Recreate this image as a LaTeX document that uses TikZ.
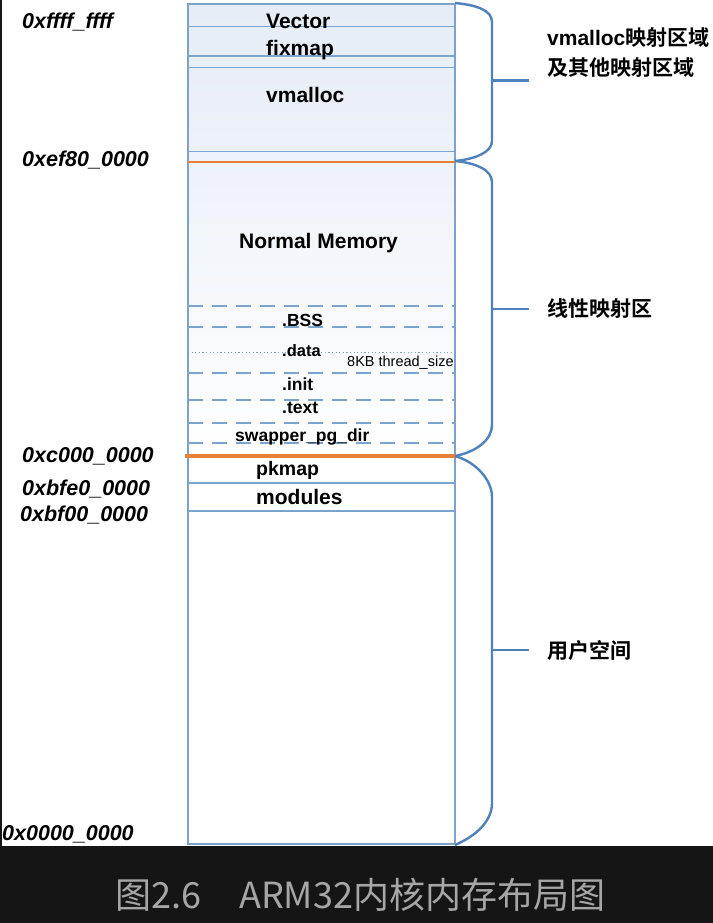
\documentclass[tikz,border=0pt]{standalone}
\usepackage{fontspec}
\setmainfont{Liberation Sans}
\newfontfamily\cjk{Noto Sans CJK SC}[BoldFont={Noto Sans CJK SC Bold}]
\definecolor{boxline}{HTML}{7BA3CB}
\definecolor{bracecol}{HTML}{4F81BD}
\definecolor{orangeline}{HTML}{E8803A}
\definecolor{kfill}{HTML}{E6EDF6}
\definecolor{kfilltwo}{HTML}{EEF2F9}
\definecolor{darkband}{HTML}{151515}
\definecolor{capgrey}{HTML}{A6A6A6}

\begin{document}
\begin{tikzpicture}[x=1bp,y=-1bp]
    \tikzstyle{every node}=[inner sep=0pt];
    \tikzstyle{addr}=[anchor=base west,font=\fontsize{21.5bp}{24bp}\selectfont\bfseries\itshape];
    \tikzstyle{seg}=[anchor=base west,font=\fontsize{21bp}{24bp}\selectfont\bfseries];
    \tikzstyle{sec}=[anchor=base west,font=\fontsize{17.5bp}{20bp}\selectfont\bfseries];
    \tikzstyle{area}=[anchor=base west,align=left,font=\fontsize{21bp}{30bp}\selectfont\bfseries];
    \tikzstyle{brace}=[draw=bracecol,line width=2.4bp];
    \useasboundingbox (0,0) rectangle (713,923);
    \fill[white] (0,0) rectangle (713,846);
    \fill[darkband] (0,846) rectangle (713,923);
    \fill[darkband] (0,0) rectangle (2,846);

    % kernel part shaded, user part white
    \shade[top color=kfill,bottom color=kfilltwo] (188,4) rectangle (455,161.5);
    \shade[top color=kfilltwo,bottom color=white] (188,161.5) rectangle (455,456);

    %\draw [option] ...
    \draw[boxline,line width=1.6bp] (188,4) rectangle (455,844);
    \draw[boxline,line width=1.6bp] (188,26.5)--(455,26.5)
    (188,56)--(455,56)
    (188,67.5)--(455,67.5)
    (188,151.5)--(455,151.5)
    (188,483)--(455,483)
    (188,511)--(455,511);
    \draw[boxline,line width=1.5bp,dash pattern=on 15bp off 9bp]
    (188,306)--(455,306)
    (188,327)--(455,327)
    (188,373)--(455,373)
    (188,400)--(455,400)
    (188,423)--(455,423)
    (188,443)--(455,443);
    \draw[boxline!80!gray,line width=1bp,dash pattern=on 1.2bp off 2.4bp] (188,352)--(455,352);
    \draw[orangeline,line width=2bp] (188,161.5)--(455,161.5);
    \draw[orangeline,line width=4.2bp] (185,456)--(456,456);

    % addresses
    \node[addr] (ffff) at (22,28) {0xffff\_ffff};
    \node[addr] (ef80) at (22,166) {0xef80\_0000};
    \node[addr] (c000) at (22,462) {0xc000\_0000};
    \node[addr] (bfe0) at (22,495) {0xbfe0\_0000};
    \node[addr] (bf00) at (20,521) {0xbf00\_0000};
    \node[addr] (zero) at (2,840) {0x0000\_0000};

    % segments
    \node[seg] (vector) at (266,28) {Vector};
    \node[seg] (fixmap) at (266,55) {fixmap};
    \node[seg] (vmalloc) at (266,102) {vmalloc};
    \node[seg] (normal) at (239,248.5) {Normal Memory};
    \node[sec] (bss) at (282,326) {.BSS};
    \node[sec,font=\fontsize{16.5bp}{20bp}\selectfont\bfseries] (data) at (282,356) {.data};
    \node[anchor=base west,font=\fontsize{14.5bp}{17bp}\selectfont] (thread) at (347,366) {8KB thread\_size};
    \node[sec] (init) at (282,390) {.init};
    \node[sec] (text) at (282,413) {.text};
    \node[sec] (swapper) at (235,441) {swapper\_pg\_dir};
    \node[seg,font=\fontsize{19.5bp}{24bp}\selectfont\bfseries] (pkmap) at (256,475) {pkmap};
    \node[seg] (modules) at (256,504) {modules};

    % braces
    \draw[brace] (455,3) .. controls (476,5) and (492,10) .. (492,22) -- (492,141) .. controls (492,152) and (476,159) .. (455,161);
    \draw[brace] (455,161) .. controls (476,163) and (492,170) .. (492,182) -- (492,425) .. controls (492,440) and (476,452) .. (455,456);
    \draw[brace] (455,456) .. controls (476,462) and (492,480) .. (492,497) -- (492,803) .. controls (492,820) and (478,835) .. (455,845);
    \coordinate (t1) at (492,80.5);
    \coordinate (t2) at (492,309);
    \coordinate (t3) at (492,650);
    \coordinate (t1e) at (529,80.5);
    \coordinate (t2e) at (529,309);
    \coordinate (t3e) at (529,650);
    \draw[brace] (t1)--(t1e)
    (t2)--(t2e)
    (t3)--(t3e);

    \node[area] (vm) at (547,75) {vmalloc{\cjk\bfseries 映射区域}\\{\cjk\bfseries 及其他映射区域}};
    \node[area] (lin) at (547,316) {\cjk\bfseries 线性映射区};
    \node[area] (user) at (547,658) {\cjk\bfseries 用户空间};

    % caption
    \node[anchor=base west,text=capgrey,font=\cjk\fontsize{36bp}{40bp}\selectfont] (cap) at (115,908) {图2.6\hspace{38bp}ARM32内核内存布局图};
  \end{tikzpicture}
\end{document}
